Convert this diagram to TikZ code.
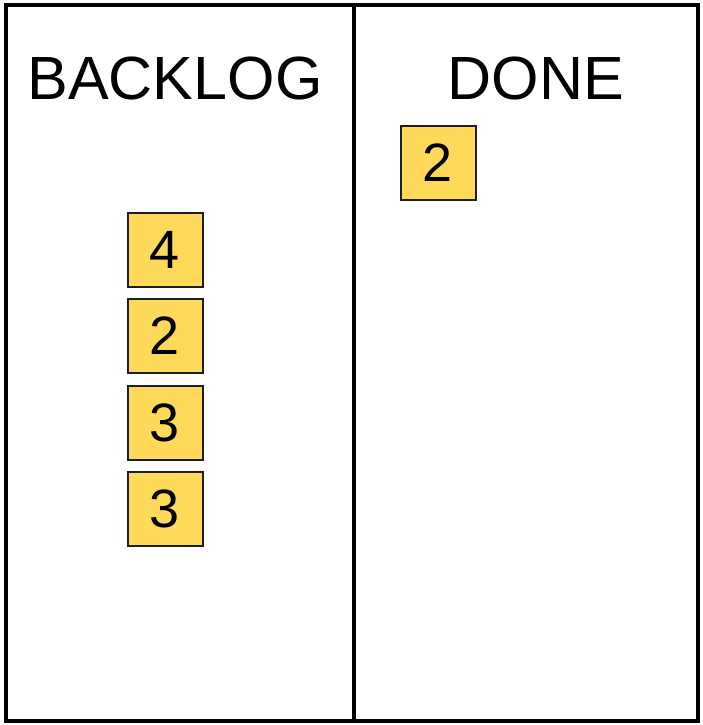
\documentclass[tikz,border=0pt]{standalone}
\usepackage{fontspec}
\setmainfont{Liberation Sans}
\definecolor{cardfill}{RGB}{255,217,90}
\definecolor{cardedge}{RGB}{30,30,30}
\begin{document}
\begin{tikzpicture}[x=1pt,y=-1pt,
  card/.style={draw=cardedge,fill=cardfill,line width=2pt,minimum width=75pt,minimum height=74pt,inner sep=0pt,font=\fontsize{54}{54}\selectfont},
  head/.style={font=\fontsize{61}{61}\selectfont,inner sep=0pt}]
\useasboundingbox (0,0) rectangle (702,725);
\node[draw,line width=3.5pt,minimum width=692pt,minimum height=716pt,inner sep=0pt] (board) at (352,363) {};
\coordinate (dtop) at (354,5);
\coordinate (dbot) at (354,721);
\draw[line width=3.5pt] (dtop) -- (dbot);
\node[head] (backlog) at (175,79) {BACKLOG};
\node[head] (done) at (536,79) {DONE};
\node[card] (c1) at (165,250) {4};
\node[card] (c2) at (165,336) {2};
\node[card] (c3) at (165,423) {3};
\node[card] (c4) at (165,509) {3};
\node[card] (d1) at (438,163) {2};
\end{tikzpicture}
\end{document}
